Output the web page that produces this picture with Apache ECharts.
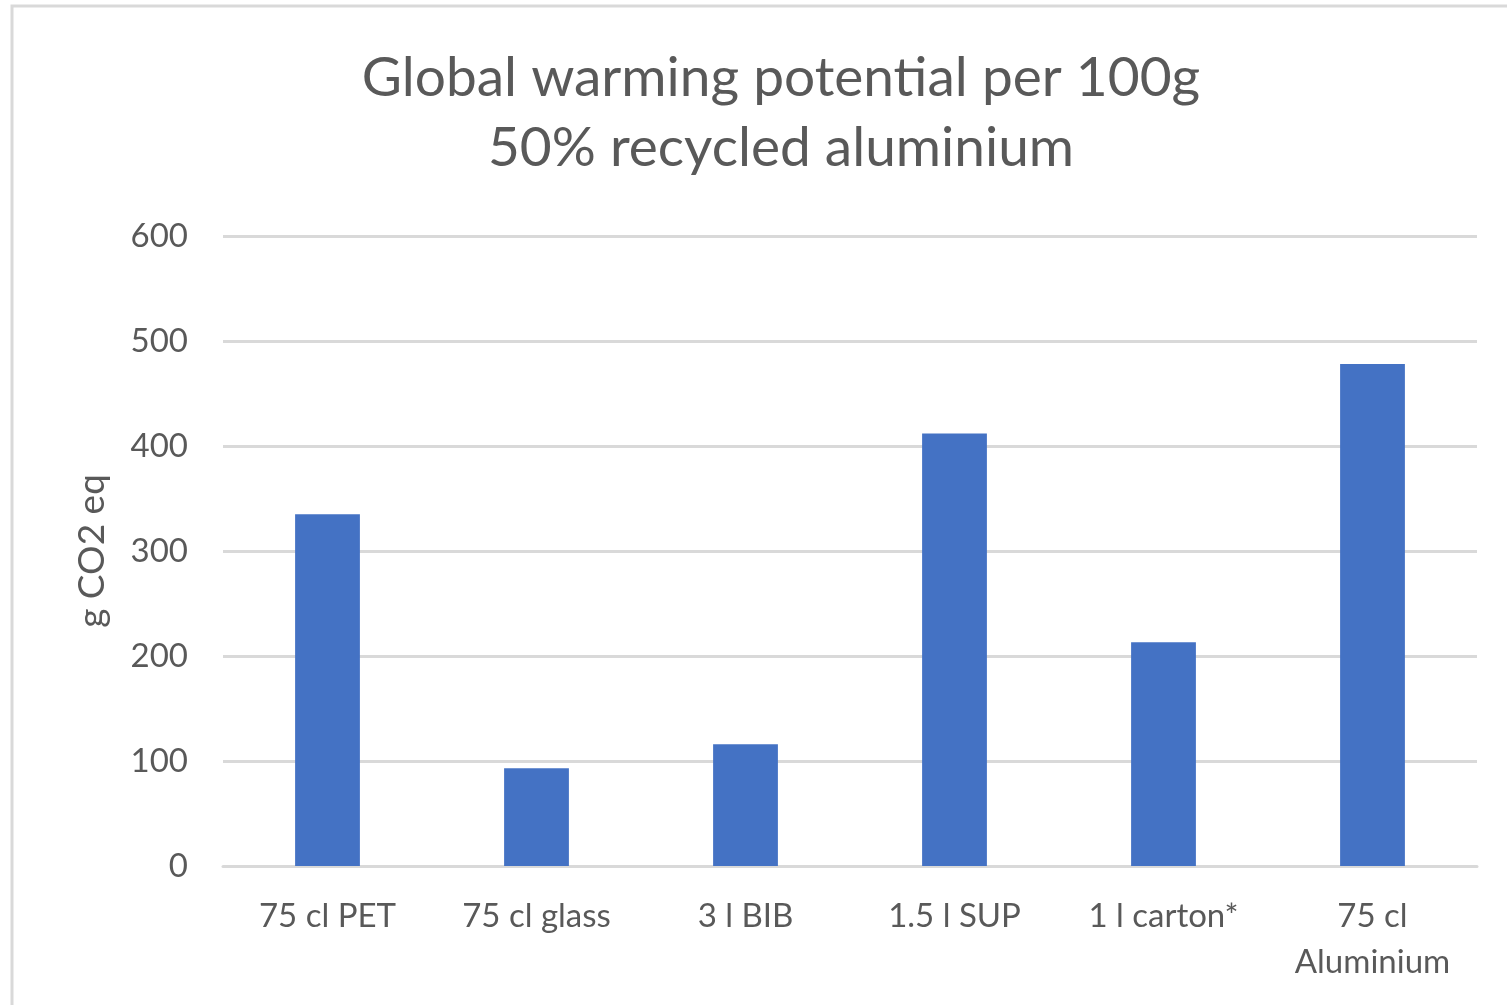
<!DOCTYPE html>
<html>
<head>
<meta charset="utf-8">
<script src="https://cdn.jsdelivr.net/npm/echarts@6/dist/echarts.min.js"></script>
<style>
html,body{margin:0;padding:0;background:#fff;}
#chart{width:1507px;height:1005px;}
</style>
</head>
<body>
<div id="chart"></div>
<script>
const titleLines = ['Global warming potential per 100g', '50% recycled aluminium'];
const categories = ['75 cl PET', '75 cl glass', '3 l BIB', '1.5 l SUP', '1 l carton*', '75 cl\nAluminium'];
const values = [335, 93, 116, 412, 213, 478];
const yAxisName = 'g CO2 eq';
const yMin = 0, yMax = 600, yStep = 100;

const FONT = 'Lato, "Open Sans", sans-serif';
const chart = echarts.init(document.getElementById('chart'));
chart.setOption({
  backgroundColor: '#fff',
  animation: false,
  graphic: [{
    type: 'rect',
    shape: {x: 12, y: 6, width: 1600, height: 1100},
    style: {fill: 'none', stroke: '#d9d9d9', lineWidth: 3},
    silent: true
  }],
  title: {
    text: titleLines.join('\n'),
    left: 776, top: 38, textAlign: 'center',
    textStyle: {fontFamily: FONT, fontSize: 55, fontWeight: 'normal', color: '#595959', lineHeight: 70}
  },
  grid: {left: 223, right: 30, top: 236, bottom: 139},
  xAxis: {
    type: 'category',
    data: categories,
    axisLine: {lineStyle: {color: '#d9d9d9', width: 3}},
    axisTick: {show: false},
    axisLabel: {fontFamily: FONT, fontSize: 33, color: '#595959', margin: 27, lineHeight: 46, interval: 0}
  },
  yAxis: {
    type: 'value',
    min: yMin, max: yMax, interval: yStep,
    name: yAxisName,
    nameLocation: 'middle',
    nameGap: 112,
    nameTextStyle: {fontFamily: FONT, fontSize: 37, color: '#595959'},
    axisLine: {show: false},
    axisTick: {show: false},
    axisLabel: {fontFamily: FONT, fontSize: 33, color: '#595959', margin: 35},
    splitLine: {lineStyle: {color: '#d9d9d9', width: 3}}
  },
  series: [{
    type: 'bar',
    data: values,
    barWidth: '31%',
    itemStyle: {color: '#4472C4'}
  }]
});
</script>
</body>
</html>
